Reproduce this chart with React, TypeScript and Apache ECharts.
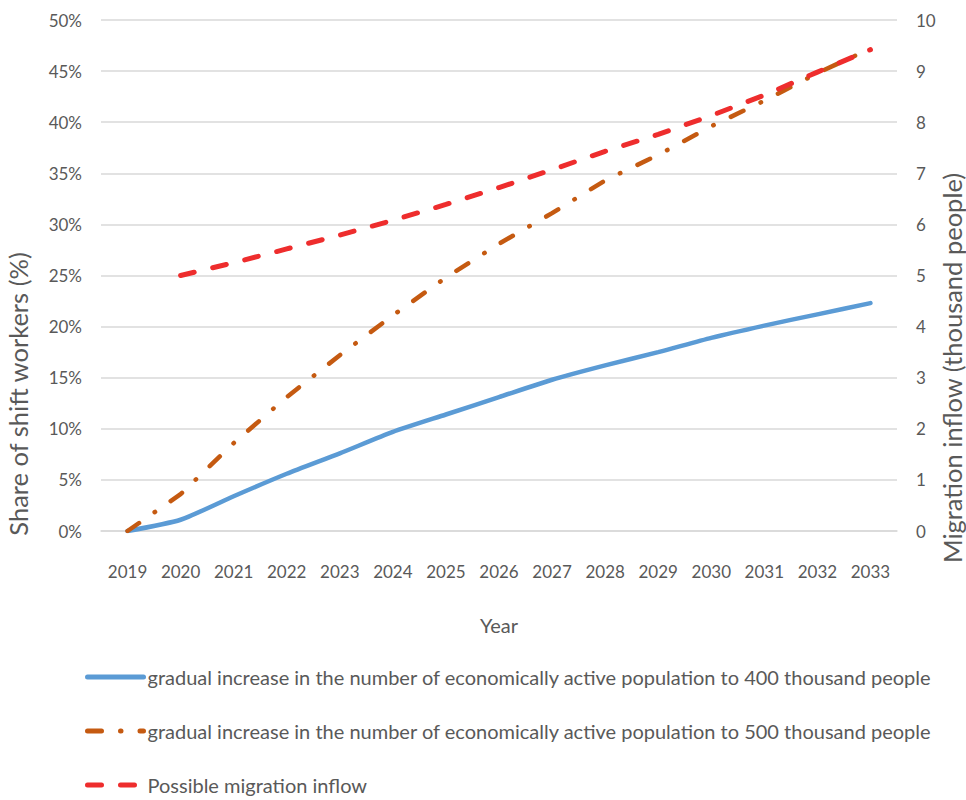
import React, { useEffect, useRef } from "react";
import * as echarts from "echarts";

// Years on the category axis
const years = [
  "2019", "2020", "2021", "2022", "2023", "2024", "2025", "2026",
  "2027", "2028", "2029", "2030", "2031", "2032", "2033",
];

// Share of shift workers, % (left axis)
const share400 = [0, 1.1, 3.4, 5.6, 7.6, 9.7, 11.4, 13.1, 14.8, 16.2, 17.5, 18.9, 20.1, 21.2, 22.3];
const share500 = [0, 3.6, 8.6, 13.1, 17.2, 21.1, 24.8, 28.1, 31.1, 34.3, 36.8, 39.6, 42.1, 44.8, 47.2];

// Migration inflow, thousand people (right axis); no value for 2019
const migration = [null, 5.0, 5.25, 5.52, 5.79, 6.08, 6.39, 6.72, 7.07, 7.43, 7.76, 8.13, 8.53, 8.98, 9.42];

const seriesNames = [
  "gradual increase in the number of economically active population to 400 thousand people",
  "gradual increase in the number of economically active population to 500 thousand people",
  "Possible migration inflow",
];

const leftTitle = "Share of shift workers (%)";
const rightTitle = "Migration inflow (thousand people)";
const xTitle = "Year";

const FONT = "Lato, 'Open Sans', sans-serif";
const GREY = "#595959";

// one legend block per row so each line sits at its own height
const legendRowTops = [662, 716, 770];

export default function App() {
  const ref = useRef<HTMLDivElement>(null);

  useEffect(() => {
    if (!ref.current) return;
    const chart = echarts.init(ref.current, undefined, { renderer: "svg" });
    chart.setOption({
      animation: false,
      backgroundColor: "#ffffff",
      textStyle: { fontFamily: FONT, color: GREY },
      grid: { left: 101, right: 69, top: 20, bottom: 269, containLabel: false },
      xAxis: {
        type: "category",
        data: years,
        boundaryGap: true,
        axisLine: { show: true, lineStyle: { color: "#d9d9d9", width: 1.5 } },
        axisTick: { show: false },
        axisLabel: { color: GREY, fontSize: 17, fontFamily: FONT, margin: 32 },
        name: xTitle,
        nameLocation: "middle",
        nameGap: 84,
        nameTextStyle: { color: GREY, fontSize: 20, fontFamily: FONT },
      },
      yAxis: [
        {
          type: "value",
          min: 0,
          max: 50,
          interval: 5,
          axisLine: { show: false },
          axisTick: { show: false },
          splitLine: { lineStyle: { color: "#d9d9d9", width: 1.5 } },
          axisLabel: {
            color: GREY,
            fontSize: 17,
            fontFamily: FONT,
            margin: 19,
            formatter: (v: number) => `${v}%`,
          },
        },
        {
          type: "value",
          min: 0,
          max: 10,
          interval: 1,
          axisLine: { show: false },
          axisTick: { show: false },
          splitLine: { show: false },
          axisLabel: { color: GREY, fontSize: 17, fontFamily: FONT, margin: 19 },
        },
      ],
      legend: seriesNames.map((name, i) => ({
        orient: "vertical",
        left: 80,
        top: legendRowTops[i],
        itemWidth: 56,
        itemHeight: 16,
        itemGap: 0,
        itemStyle: { opacity: 0 },
        lineStyle: { width: 5 },
        textStyle: { color: GREY, fontSize: 20, fontFamily: FONT, padding: [0, 0, 0, -1] },
        data: [name],
      })),
      series: [
        {
          name: seriesNames[0],
          type: "line",
          data: share400,
          yAxisIndex: 0,
          symbol: "none",
          smooth: 0.2,
          lineStyle: { color: "#5B9BD5", width: 4.5, cap: "round" },
          itemStyle: { color: "#5B9BD5" },
        },
        {
          name: seriesNames[1],
          type: "line",
          data: share500,
          yAxisIndex: 0,
          symbol: "none",
          lineStyle: { color: "#C55A11", width: 4.5, type: [14, 19, 0.5, 19], cap: "round" },
          itemStyle: { color: "#C55A11" },
        },
        {
          name: seriesNames[2],
          type: "line",
          data: migration,
          yAxisIndex: 1,
          symbol: "none",
          lineStyle: { color: "#EE2D2D", width: 5, type: [14, 19], cap: "round" },
          itemStyle: { color: "#EE2D2D" },
        },
      ],
      graphic: [
        {
          type: "text",
          x: 18,
          y: 394,
          rotation: Math.PI / 2,
          style: {
            text: leftTitle,
            fill: GREY,
            font: `25.5px ${FONT}`,
            textAlign: "center",
            textVerticalAlign: "middle",
          },
        },
        {
          type: "text",
          x: 952,
          y: 368,
          rotation: Math.PI / 2,
          style: {
            text: rightTitle,
            fill: GREY,
            font: `25.5px ${FONT}`,
            textAlign: "center",
            textVerticalAlign: "middle",
          },
        },
      ],
    });
    return () => chart.dispose();
  }, []);

  return <div ref={ref} style={{ width: 966, height: 800, position: "absolute", left: 0, top: 0 }} />;
}
